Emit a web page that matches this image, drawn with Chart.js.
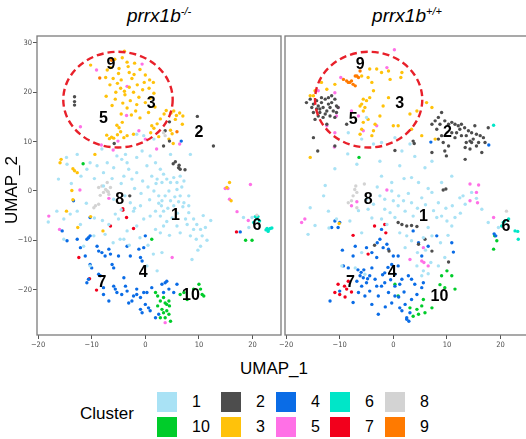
<!DOCTYPE html>
<html>
<head>
<meta charset="utf-8">
<script src="https://cdn.jsdelivr.net/npm/chart.js@4.4.1/dist/chart.umd.min.js"></script>
<style>
  body { margin: 0; width: 526px; height: 439px; overflow: hidden; background: #fff; position: relative;
         font-family: "Liberation Sans", Arial, sans-serif; color: #000; }
  canvas { position: absolute; top: 0; }
  #koChart { left: 0; }
  #wtChart { left: 268px; }
  .ptitle { position: absolute; top: 3px; font-size: 19px; font-style: italic; line-height: 26px; transform: translateX(-50%); white-space: nowrap; }
  .ptitle sup { font-size: 11px; vertical-align: 7px; line-height: 0; }
  .axtitle { position: absolute; font-size: 17px; white-space: nowrap; }
  #ytitle { left: 12px; top: 190px; transform: translate(-50%, -50%) rotate(-90deg); }
  #xtitle { left: 274px; top: 369px; transform: translate(-50%, -50%); }
  #legend { position: absolute; left: 0; top: 0; }
  .lgTitle { position: absolute; left: 80px; top: 404px; font-size: 17px; }
  .sw { position: absolute; width: 20px; height: 20px; }
  .lbl { position: absolute; font-size: 16px; line-height: 20px; }
</style>
</head>
<body>
<div class="ptitle" style="left:159px">prrx1b<sup>-/-</sup></div>
<div class="ptitle" style="left:407px">prrx1b<sup>+/+</sup></div>
<canvas id="koChart" width="285" height="351"></canvas>
<canvas id="wtChart" width="268" height="351"></canvas>
<div id="ytitle" class="axtitle">UMAP_2</div>
<div id="xtitle" class="axtitle">UMAP_1</div>
<div id="legend"><div class="lgTitle">Cluster</div></div>
<script>
// axis setup
const xTicks = [-20, -10, 0, 10, 20];
const yTicks = [-20, -10, 0, 10, 20, 30];
const xRange = [-20.2, 25.3];
const yRange = [-29.2, 31.4];

const clusterNames = ['1', '2', '3', '4', '5', '6', '7', '8', '9', '10'];
const clusterColors = ['#A9E2F5', '#4D4D4D', '#FFC20A', '#0A6CE6', '#FF70E6', '#00E6C8', '#F2001C', '#D3D3D3', '#FF7A00', '#00CC2A'];
// legend order, two rows as in the figure
const legendRows = [['1', '2', '4', '6', '8'], ['10', '3', '5', '7', '9']];

// prrx1b-/- cells, one array per cluster [UMAP_1, UMAP_2]
const ko1 = [[-16.2,2.4],[-14.7,6.8],[-14.6,5.4],[-12.7,7.4],[-10.9,4.4],[-10.3,5.7],[-9.0,5.1],[-8.1,8.5],[-7.8,3.7],[-7.1,5.7],[-5.9,4.7],[-5.3,7.1],[-4.4,6.4],[-3.7,7.4],[-3.4,5.7],[-3.1,4.4],[-4.0,3.0],[-2.5,2.4],[-1.6,6.8],[-1.6,3.7],[-0.6,8.1],[0.3,5.1],[0.9,7.1],[1.2,3.0],[1.9,5.7],[2.2,2.4],[2.8,4.4],[3.1,1.7],[3.4,3.4],[4.0,2.4],[4.7,1.7],[5.3,2.7],[5.9,1.7],[6.5,3.0],[7.2,2.0],[8.4,7.4],[4.7,7.4],[-1.6,11.5],[-0.3,11.2],[1.6,10.5],
  [-16.5,-4.1],[-15.2,-5.7],[-14.0,-4.7],[-12.7,-4.1],[-15.2,-9.8],[-12.1,-6.8],[-6.8,-6.8],[-5.6,-4.7],[-4.7,-9.8],[-4.0,-9.8],[-2.8,-2.4],[-2.2,-4.1],[-0.9,-3.0],[-0.3,-5.7],[0.9,-5.1],[1.6,0],[2.5,-1.0],[3.1,-2.0],[3.7,-1.0],[4.4,0],[4.7,-2.0],[5.3,-3.0],[1.9,-4.1],[2.8,-5.1],[3.4,-4.1],[5.9,0.3],[6.5,-1.0],[7.2,-2.4],[8.1,-4.4],[9.0,-5.7],[9.6,-6.8],[10.3,-7.8],[11.2,-7.4],[10.6,-9.1],[10.3,-11.2],[8.4,-9.1],[9.0,-7.8],[5.9,-7.1],[6.5,-8.5],[3.4,-7.1],[2.8,-8.5],[1.9,-7.8],[8.7,-13.9],[3.1,-12.5],[0.3,-15.2],[2.2,-16.2],[7.5,-5.7],[8.1,-3.0],[8.1,-1.0],[-7.8,1.0],[-5.9,-1.7],[-5.0,-5.7],[-7.5,-8.8],[-3.4,-8.1],[-1.6,-7.1],[-9.6,-9.1],[-11.5,-11.2],[-10.3,-15.2],[18.3,-5.4],[19.9,-5.4],[19.3,-7.4],[-18.1,-6.3],
  [4.2,-3.5],[6.0,-4.5],[7.0,-3.2],[3.0,-3.0],[5.5,-1.2],[6.8,0.8],[2.0,1.5],[0.5,0.8],[-0.5,2.0],[-2.0,0.5],[-4.5,1.5],[-6.2,2.5],[-9.5,2.5],[-12.0,3.0],[-13.8,1.5],[-11.0,-2.5],[-9.5,-5.5],[-8.0,-6.0],[-6.0,-10.5],[-3.0,-11.0],[-1.0,-9.5],[0.5,-11.0],[1.5,-12.8],[4.5,-9.0],[5.0,-5.5],[7.8,-6.8],[9.5,-9.8],[10.8,-5.0],[12.2,-6.0],[11.5,-10.0],[9.8,-12.0],[0.0,-17.0],[-2.0,-3.5],[-3.8,-1.0],[-4.5,-3.8],[2.5,-2.5],[4.0,-6.2],[6.2,-2.2],[0.8,-1.8],[-0.8,-0.5]];
const ko2 = [[-13.2,19.1],[-13.2,18.1],[-13.2,17.4],[9.7,15.1],[12.7,9.1],[4.5,14.0],[3.7,12.2],[4.5,10.1],[3.4,9.1],[-5.8,9.6],[5.2,5.5],[5.6,5.9],[6.2,4.7],[6.5,4.4],[7.4,4.3],[6.3,5.2],[-2.9,-1.0]];
const ko3 = [[-3.9,28.3],[-10.2,25.5],[-4.3,27],[-3.4,26.1],[-5.7,26.7],[-6.5,25],[-7.1,24.5],[-2,25.9],[-1,24.6],[-3,24],[-5,23.8],[-6,22.8],[-7.4,23],[-4.5,22.5],[-2.5,22.8],[0,23.5],[0.8,22.5],[1.5,22],[-1.5,21.5],[-3,21],[-4.6,20.8],[-5.5,20],[-3.8,19.5],[-2.2,20],[-0.5,20.5],[0.7,20.8],[1.6,19.8],[-1.2,19],[-2.8,18.3],[-4.2,17.8],[-5.6,18.6],[-6.2,17.3],[-3.4,16.8],[-1.8,16.2],[0,17.9],[0.9,18.8],[-2.6,15.4],[-4.5,15.6],[-1,14.8],[0.6,15.9],[1.8,17],[-7.3,19.2],[-6.6,21.5],[-2.1,23.6],[-3.2,25.2],[-4.9,24.8],[-0.2,22],[-1.6,17.5],[-3.9,20.2],[-5.2,21.8],
  [-5.3,13.3],[-4.9,12.8],[-4.6,12],[-5.2,11.4],[-6.3,10.9],[-6.7,10.6],[-7.2,11.3],[-5.9,10.7],[-4,10.8],[-3.4,11.2],[-2.2,11.5],[-4.3,13.9],[1.2,13.2],[1.6,12.7],[2.2,13.6],[2.8,14.6],[3.5,15.6],[3.9,16.3],[4.8,15.8],[5.3,16.2],[5.8,15.3],[6.4,15.8],[7,15.2],[5.6,14.5],[6.9,13.5],[4.7,12.3],[5,11.6],[4.4,10.5],[5.2,9.6],[2.5,11],[1,11.8],
  [-15.7,6.4],[-15.9,5.7],[-13.5,4.5],[-13.2,4.1],[-12.7,3.7],[-9.4,7.4],[15.7,1.7],[-13.7,0.1],[-13.5,-1.8],[-14.7,-4.1],[-10.2,-5.2],[-12.6,-7.4],[-7.9,-8.1],[15.2,0.7],[16,-2]];
const ko4 = [[-13.4,-2.0],[-15.5,-8.1],[-14.6,-10.1],[-12.7,-9.8],[-12.1,-11.5],[-11.2,-13.2],[-10.9,-9.8],[-10.6,-9.5],[-10.3,-9.1],[-9.0,-11.2],[-8.7,-12.2],[-8.1,-12.5],[-7.5,-13.2],[-6.8,-11.8],[-6.5,-12.8],[-6.2,-14.9],[-5.9,-15.6],[-10.3,-14.9],[-10.0,-15.6],[-8.7,-16.9],[-8.4,-17.2],[-10.9,-18.6],[-10.6,-17.9],[-7.8,-19.6],[-7.8,-21.0],[-6.8,-22.3],[-5.9,-19.3],[-5.6,-19.9],[-5.3,-20.6],[-4.4,-21.0],[-4.0,-17.6],[-3.7,-19.3],[-3.4,-20.3],[-3.1,-22.7],[-2.5,-22.3],[-2.2,-21.3],[-1.6,-21.0],[-0.3,-20.6],[0.3,-20.6],[-0.9,-24.0],[-0.6,-24.7],[0,-23.0],[0.6,-23.7],[0.9,-24.3],[1.9,-25.7],[2.5,-25.0],[1.2,-19.6],[3.1,-18.9],[3.7,-18.6],[3.4,-20.6],[4.0,-18.3],[4.4,-19.9],[5.3,-20.6],[5.9,-18.9],[-0.9,-13.5],[-0.6,-14.2],[-0.3,-11.5],[0,-9.1],[-1.6,-19.9],[-0.9,-21.6],[-5.0,-13.2],[-2.8,-13.2],[-1.2,-11.8],[-3.4,-11.2],[-10.3,-5.4],[6.7,10.1],[17.7,-8.3]];
const ko5 = [[-9.1,24.5],[-0.6,25.7],[-3.4,21.2],[-3.5,15.3],[-12.1,13],[-5.1,10.1],[-1.2,12.2],[0,10.5],[6.4,9.5],[2.1,8.5],[-8.2,9.3],[-6,8.3],[19.6,1.3],[-12.2,0.2],[-6.8,-1.5],[14.9,0.5],[15.4,0.5],[15.7,-1.7],[17.1,-4.2],[19.2,-6],[-18,-5.1],[-16,-7.8],[5,-13.5],[3.7,-26.7]];
const ko6 = [[20.5,-5.2],[20.8,-5.7],[21.3,-6.1],[22.7,-7.6],[23.0,-7.8],[23.3,-7.6],[22.5,-7.9],[23.6,-7.5],[20.2,-6.4],[22.9,-8.2],[21.0,-5.2]];
const ko7 = [[-4.2,-3.6],[-4.2,-3.9],[-3.5,-5.4],[-6.5,-7.1],[-2.2,-7.6],[-12.4,-13.5],[-10.4,-17.8],[-9.1,-20.1],[17.0,-8.3]];
const ko8 = [[-8.7,0.7],[-7.8,-0.3],[-7.1,0],[-6.5,0.7],[-6.8,-0.7],[-8.4,-0.9],[-9.3,-3.0],[-8.7,-2.7],[-9.6,-3.4],[-8.1,1.0],[3.7,11.2],[3.4,11.8],[-7.1,1.7],[20.8,-4.9],[-7.4,0.3],[-6.9,-0.2]];
const ko9 = [[-8.5,22.9],[5.9,12.0],[-6.3,26.5]];
const ko10 = [[1.9,-20.6],[2.3,-21.3],[2.8,-22.3],[3.4,-21.6],[3.7,-22.7],[4.0,-23.0],[4.4,-22.3],[4.5,-23.3],[3.1,-24.0],[3.4,-24.7],[4.0,-24.3],[4.4,-25.0],[3.7,-25.7],[4.7,-26.4],[2.8,-25.7],[2.3,-23.3],[6.5,-21.0],[7.2,-20.6],[7.8,-22.0],[10.0,-18.9],[10.3,-19.9],[10.6,-21.0],[10.9,-21.3],[9.0,-19.9],[-11.6,5.5],[1.2,-9.8],[18.7,-10.0],[19.9,-10.0]];

// prrx1b+/+ cells
const wt1 = [[-8.4,11.8],[-5.0,14.9],[-5.9,10.5],[-3.7,9.5],[-2.2,9.8],[0.3,10.8],[1.6,8.1],[3.1,9.5],[-6.8,5.4],[-10.9,4.5],[-2.2,3.0],[1.2,5.1],[3.4,2.7],[5.9,4.7],[9.0,1.7],[10.9,3.0],[-12.7,1.1],[-0.3,1.7],[4.7,1.7],
  [-15.5,-3.4],[-14.6,-7.0],[-15.9,-8.8],[-12.1,-4.1],[-8.1,-6.1],[-5.9,-8.5],[-1.6,-1.7],[-0.3,0],[0,-2.0],[-1.6,-3.7],[-0.6,-4.4],[0.9,-3.0],[1.9,-2.0],[2.2,-4.1],[3.4,-2.4],[3.7,-5.1],[5.3,-1.4],[7.2,-0.3],[8.4,-2.4],[8.1,-5.4],[9.0,-5.1],[10.0,-6.1],[10.9,-7.1],[11.5,-5.4],[12.4,-1.4],[13.4,-2.7],[14.6,-0.3],[16.5,-3.7],[17.7,-6.4],[19.6,-7.4],[-1.2,-6.8],[-2.2,-5.7],[0.3,-5.4],[1.2,-8.5],[2.5,-9.1],[3.4,-10.1],[5.6,-9.5],[6.5,-7.4],[7.2,-9.1],[2.2,-11.5],[-9.6,-15.2],[-7.1,-15.6],[-5.3,-16.9],[5.6,-16.2],[5.3,-17.2],[4.4,-15.2],[8.4,-15.2],[9.6,-13.5],[-5.9,-12.5],[-5.0,-1.7],[-3.7,-2.7],[-4.7,-3.7],[-10.6,-5.7],
  [-3.0,0.8],[-2.5,-1.0],[1.0,-1.0],[2.8,-0.5],[4.5,-3.5],[6.0,-2.8],[7.5,-4.0],[9.8,-3.5],[11.0,-3.0],[13.0,-1.0],[15.5,-1.5],[12.5,-4.5],[10.2,-9.0],[8.8,-10.5],[6.0,-12.0],[4.5,-12.5],[7.0,-14.5],[6.5,-16.8],[-4.0,-5.5],[-6.5,-4.0],[-12.0,-7.5],[2.0,2.5],[6.5,0.5],[-2.5,6.0],[4.0,7.0],[7.2,6.0],[-8.5,7.5],[-13.0,-1.0]];
const wt2 = [[-16.2,17.9],[-15.5,18.6],[-14.9,17.6],[-14.3,18.3],[-14.0,17.2],[-13.7,16.6],[-13.4,17.9],[-13.1,16.9],[-12.7,18.6],[-12.4,16.2],[-12.1,17.6],[-11.8,16.9],[-11.5,17.9],[-11.2,16.2],[-10.9,18.6],[-10.6,17.2],[-10.3,16.9],[-11.5,19.3],[-12.1,18.9],[-13.4,18.9],[-14.6,14.5],[-14.0,15.2],[-12.7,15.6],[-12.4,13.5],[-10.9,14.9],[-14.3,16.6],[-14.9,15.9],[-15.2,16.9],[-13.7,15.9],[-13.1,14.9],[-10.6,15.9],[-11.8,15.2],
  [-8.7,13.5],[-14.9,10.8],[-14.1,8.1],[-10.9,9.1],[0.3,8.2],[3.7,10.1],[3.9,9.6],
  [9.0,15.9],[8.4,14.9],[7.8,14.2],[7.2,13.5],[9.6,14.2],[10.3,13.5],[10.9,13.9],[11.5,13.5],[12.1,13.2],[12.7,13.5],[13.3,12.8],[14.0,12.2],[14.6,11.8],[15.2,13.2],[15.5,11.5],[16.2,11.2],[16.8,10.8],[17.1,9.8],[14.9,10.5],[13.6,9.8],[13.4,8.8],[14.3,8.5],[12.7,11.2],[11.5,10.8],[10.9,11.8],[11.8,11.8],[12.4,12.5],[13.6,11.2],[14.6,9.8],[15.9,9.8],[9.0,11.2],[8.4,10.5],[9.3,9.8],[10.3,9.1],[9.6,8.1],[9.9,7.1],[7.2,7.8],[8.1,12.5],[8.7,13.5],[17.7,12.8],[16.5,7.8],[13.4,6.4],[14.3,10.1],[15.5,9.1],
  [9.3,0.2],[9.8,0.4],[0.9,-6.4],[1.6,-6.8],[2.5,-7.1],[3.4,-7.0],[4.4,-7.2],[5.9,-9.8],[4.7,-10.8],[7.2,-12.2],[10.3,-14.4],[-3.5,-11.0],[-0.8,-12.2]];
const wt3 = [[-4.4,24.7],[-3.1,24.7],[-2.2,24.0],[-4.7,23.0],[-5.9,23.3],[-4.0,22.0],[-3.7,20.3],[-4.4,18.9],[-5.6,18.6],[-5.0,18.3],[-5.9,17.6],[-5.3,16.9],[-5.6,16.2],[-6.2,17.2],[-4.7,14.5],[-5.6,13.9],[-5.9,12.5],[-6.2,11.5],[-3.4,13.5],[-3.7,12.2],[-1.9,17.2],[-2.5,15.2],[-0.9,18.9],[-0.6,22.6],[-0.9,24.3],[1.6,24.0],[1.4,23.0],[0,13.2],[0.9,13.2],[3.1,15.6],[3.4,12.5],[4.4,16.2],[5.3,11.2],[6.2,17.9],[7.2,16.9],[7.8,10.5],[-14.6,20.3],[-14.9,19.3],[-15.5,19.3],[-13.4,22.0],[-12.4,20.6],[-10.9,21.6],[-15.5,6.8],[-4.0,11.2],[-10.1,-6.6]];
const wt4 = [[-11.5,-7.4],[-10.3,-7.4],[-10.9,-6.1],[-7.1,-11.2],[-7.5,-13.2],[-8.4,-15.6],[-9.3,-15.2],[-5.0,-11.5],[-4.0,-12.5],[-4.0,-15.6],[-3.1,-13.5],[-2.5,-9.8],[-2.2,-7.8],[-1.9,-11.5],[-1.2,-10.8],[-0.9,-11.8],[0,-13.2],[0.9,-13.2],[-0.3,-14.9],[0.3,-16.9],[0.9,-15.2],[1.6,-17.9],[2.8,-17.2],[3.4,-17.9],[4.0,-18.9],[5.3,-19.6],[5.6,-18.6],[4.4,-21.0],[3.4,-22.0],[2.2,-23.0],[1.6,-24.3],[2.5,-25.7],[3.1,-24.7],[1.2,-23.7],[0.3,-21.3],[-0.3,-22.7],[-0.9,-20.6],[-1.6,-18.6],[-2.2,-19.3],[-2.8,-21.3],[-2.8,-25.0],[-4.4,-20.3],[-5.0,-18.6],[-5.6,-17.6],[-6.2,-17.2],[-6.8,-18.3],[-5.9,-19.3],[-5.3,-21.3],[-6.5,-20.6],[-7.5,-22.6],[-10.0,-20.3],[-11.8,-22.3],[-4.4,-17.2],[-3.4,-17.9],[-3.1,-19.3],[-1.6,-16.6],[1.2,-18.9],[0.3,-19.3],[5.3,-13.2],[8.1,-9.1],[6.5,-11.2],[10.9,-10.5],[11.2,-12.4],[4.7,-10.5],[3.7,-8.1],[2.5,-26.0],[2.9,-26.4],[19.1,-9.1],[18.8,-8.7],[7.0,9.9],[17.8,9.3],[-10.0,-6.4],
  [-6.0,-16.5],[-5.5,-16.0],[-6.6,-16.0],[-4.8,-17.8],[-2.0,-17.0],[-1.0,-15.5],[-0.5,-18.0],[2.0,-20.5],[1.0,-21.5],[-1.5,-23.5],[-4.0,-23.0],[-9.5,-12.0],[-3.0,-10.5]];
const wt5 = [[0.2,28.6],[-9.8,23.0],[-1.2,25.0],[-14.0,20.3],[-10.9,19.9],[-10.3,16.9],[-10.6,15.2],[-7.8,16.2],[-6.5,15.2],[-12.4,13.2],[-10.9,11.8],[-3.1,13.2],[-5.6,12.2],[-11.0,8.9],[-1.2,0.2],[-6.8,-2.2],[-7.8,-3.0],[-17.1,-6.4],[-16.5,-5.7],[14.3,-2.0],[15.5,-0.3],[15.7,-2.4],[18.7,-5.4],[5.6,-11.5],[3.1,-13.9],[5.3,-14.2],[5.7,-14.5],[6.5,-15.2],[14.3,1.4],[15.9,1.2]];
const wt6 = [[20.2,-7.1],[20.8,-6.1],[21.5,-5.7],[22.7,-8.1],[23.3,-9.8],[23.2,-8.2],[18.7,13.3],[20.5,-6.4]];
const wt7 = [[-3.5,-7.1],[-1.6,-6.8],[-1.4,-8.5],[-7.5,-9.0],[-4.7,-12.8],[-10.3,-18.9],[-10.9,-20.6],[-10.0,-21.0],[-9.1,-19.3],[-8.7,-19.9],[-7.8,-20.5],[-9.0,-21.5],[-8.4,-18.3]];
const wt8 = [[-7.2,0.3],[-6.8,-0.3],[-7.5,-1.0],[-7.8,-2.0],[-8.4,-2.4],[-6.8,-3.4],[-5.4,1.4],[21.1,-4.1],[-7.0,1.0]];
const wt9 = [[-9.3,22.6],[-8.7,22.3],[-8.1,22.0],[-7.8,22.3],[-7.5,21.6],[-7.1,21.3],[-6.8,23.3],[-6.5,23.0],[-7.1,23.3],[-8.4,22.0],[-6.2,24.3]];
const wt10 = [[9.0,-17.2],[10.0,-16.2],[10.9,-17.2],[11.5,-19.9],[8.7,-19.0],[9.6,-19.6],[7.2,-23.7],[5.9,-24.7],[5.3,-23.3],[4.4,-24.0],[3.7,-25.4],[4.7,-25.0],[3.1,-23.7],[0.9,-21.3],[0.3,-18.9],[5.6,-22.0],[18.7,-11.8],[19.3,-10.1],[18.9,-9.1],[-6.4,6.8]];

// cluster number positions
const koLabelX = [5.6, 10.0, 1.1, -0.4, -7.8, 20.8, -8.1, -4.8, -6.4, 8.5];
const koLabelY = [-5.1, 11.8, 17.7, -16.6, 14.7, -7.1, -18.5, -1.8, 25.7, -21.2];
const wtLabelX = [5.6, 10.1, 1.2, -0.2, -7.5, 21.0, -8.0, -4.7, -6.2, 8.6];
const wtLabelY = [-5.2, 11.8, 17.6, -16.6, 14.5, -7.2, -18.6, -1.8, 25.7, -21.5];

// dashed ring around clusters 3/5/9: centre x, centre y, radius x, radius y
const koRing = [-5.1, 18.5, 10.2, 9.7];
const wtRing = [-4.6, 18.5, 10.0, 9.7];

const koSets = [ko1, ko2, ko3, ko4, ko5, ko6, ko7, ko8, ko9, ko10];
const wtSets = [wt1, wt2, wt3, wt4, wt5, wt6, wt7, wt8, wt9, wt10];

const drawOrder = [1, 8, 2, 3, 4, 5, 6, 7, 9, 10];
const tickFont = { family: '"Liberation Sans Narrow", "DejaVu Sans Condensed", sans-serif', size: 7.5 };
const fmt = v => (v < 0 ? '\u2212' + Math.abs(v) : String(v));

// frame, dashed ring and cluster numbers
const panelMarks = {
  id: 'panelMarks',
  afterDatasetsDraw(chart, args, opts) {
    const { ctx, chartArea: a, scales: { x, y } } = chart;
    ctx.save();
    ctx.strokeStyle = '#7c7c7c';
    ctx.lineWidth = 1.3;
    ctx.strokeRect(a.left, a.top, a.right - a.left, a.bottom - a.top);

    const r = opts.ring;
    const cx = x.getPixelForValue(r[0]), cy = y.getPixelForValue(r[1]);
    const rx = Math.abs(x.getPixelForValue(r[0] + r[2]) - cx);
    const ry = Math.abs(y.getPixelForValue(r[1] + r[3]) - cy);
    ctx.beginPath();
    ctx.ellipse(cx, cy, rx, ry, 0, 0, Math.PI * 2);
    ctx.setLineDash([7, 4]);
    ctx.lineWidth = 2.4;
    ctx.strokeStyle = '#E8202A';
    ctx.stroke();
    ctx.setLineDash([]);

    ctx.fillStyle = '#000';
    ctx.font = 'bold 16px "Liberation Sans", Arial, sans-serif';
    ctx.textAlign = 'center';
    ctx.textBaseline = 'middle';
    clusterNames.forEach((name, i) => {
      ctx.fillText(name, x.getPixelForValue(opts.lx[i]), y.getPixelForValue(opts.ly[i]));
    });
    ctx.restore();
  }
};

function makeChart(id, sets, lx, ly, ring, showY, pad) {
  return new Chart(document.getElementById(id), {
    type: 'scatter',
    data: {
      datasets: drawOrder.map(c => ({
        label: clusterNames[c - 1],
        data: sets[c - 1].map(p => ({ x: p[0], y: p[1] })),
        backgroundColor: clusterColors[c - 1],
        borderWidth: 0,
        pointRadius: 1.7,
        pointHoverRadius: 1.7
      }))
    },
    options: {
      responsive: false,
      animation: false,
      events: [],
      layout: { padding: pad },
      plugins: {
        legend: { display: false },
        tooltip: { enabled: false },
        panelMarks: { lx, ly, ring }
      },
      scales: {
        x: {
          type: 'linear', min: xRange[0], max: xRange[1],
          afterBuildTicks: s => { s.ticks = xTicks.map(v => ({ value: v })); },
          afterFit: s => { s.height = 16; },
          grid: { drawOnChartArea: false, tickLength: 4, color: '#555' },
          border: { display: false },
          ticks: { font: tickFont, color: '#4d4d4d', padding: 2, maxRotation: 0, autoSkip: false, callback: fmt }
        },
        y: {
          type: 'linear', min: yRange[0], max: yRange[1], display: showY,
          afterBuildTicks: s => { s.ticks = yTicks.map(v => ({ value: v })); },
          afterFit: s => { s.width = showY ? 37 : 0; },
          grid: { drawOnChartArea: false, tickLength: 4, color: '#555' },
          border: { display: false },
          ticks: { font: tickFont, color: '#4d4d4d', padding: 1, autoSkip: false, callback: fmt }
        }
      }
    },
    plugins: [panelMarks]
  });
}

makeChart('koChart', koSets, koLabelX, koLabelY, koRing, true, { top: 36, left: 0, right: 4, bottom: 0 });
makeChart('wtChart', wtSets, wtLabelX, wtLabelY, wtRing, false, { top: 36, left: 17, right: 7, bottom: 0 });

// legend
const legendCols = [157, 221, 276, 330, 385];
const legendTops = [392, 417];
const legend = document.getElementById('legend');
legendRows.forEach((row, r) => {
  row.forEach((name, c) => {
    const sw = document.createElement('div');
    sw.className = 'sw';
    sw.style.left = legendCols[c] + 'px';
    sw.style.top = legendTops[r] + 'px';
    sw.style.background = clusterColors[clusterNames.indexOf(name)];
    legend.appendChild(sw);
    const lb = document.createElement('div');
    lb.className = 'lbl';
    lb.style.left = (legendCols[c] + 35) + 'px';
    lb.style.top = legendTops[r] + 'px';
    lb.textContent = name;
    legend.appendChild(lb);
  });
});
</script>
</body>
</html>
